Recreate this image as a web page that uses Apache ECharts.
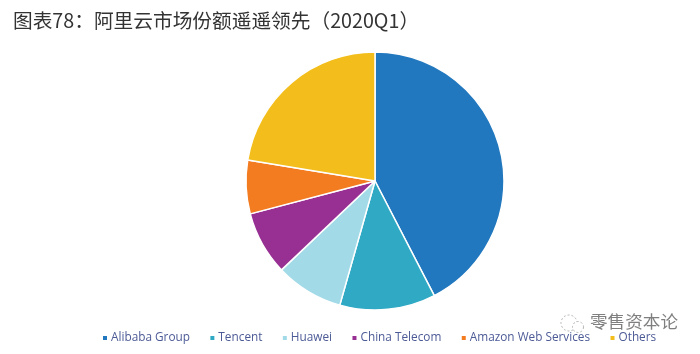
<!DOCTYPE html>
<html>
<head>
<meta charset="utf-8">
<style>
  html, body { margin: 0; padding: 0; background: #fff; }
  #chart { width: 700px; height: 354px; }
</style>
<script src="https://cdn.jsdelivr.net/npm/echarts@6/dist/echarts.min.js"></script>
</head>
<body>
<div id="chart"></div>
<script>
// 数值为从图上估读的份额（%）
const categories = ["Alibaba Group", "Tencent", "Huawei", "China Telecom", "Amazon Web Services", "Others"];
const shares = [42.4, 12, 8.5, 8, 6.7, 22.4];
const colors = ["#2278BE", "#2FA9C4", "#A2DAE8", "#983094", "#F37B20", "#F3BE1B"];
const titleText = "图表78：阿里云市场份额遥遥领先（2020Q1）";
const watermarkText = "零售资本论";

const chart = echarts.init(document.getElementById("chart"));

chart.setOption({
  animation: false,
  backgroundColor: "#fff",
  color: colors,
  title: {
    text: titleText,
    left: 8,
    top: 6,
    textStyle: {
      fontFamily: "Noto Sans CJK SC",
      fontSize: 19.7,
      fontWeight: "normal",
      color: "#333"
    }
  },
  legend: {
    left: 96,
    top: 327,
    icon: "rect",
    itemWidth: 6,
    itemHeight: 6,
    itemGap: 18.4,
    selectedMode: false,
    textStyle: {
      fontFamily: "Open Sans",
      fontSize: 11.8,
      color: "#4C5A96",
      padding: [0, 0, 0, -2]
    }
  },
  series: [
    {
      type: "pie",
      center: [375, 181],
      radius: [0, 129],
      startAngle: 90,
      clockwise: true,
      label: { show: false },
      labelLine: { show: false },
      itemStyle: { borderColor: "#fff", borderWidth: 1.5 },
      data: categories.map((name, i) => ({ name, value: shares[i] }))
    }
  ],
  graphic: [
    // 水印：微信图标 + 公众号名
    {
      type: "circle",
      shape: { cx: 569, cy: 323, r: 8 },
      style: { fill: "none", stroke: "#b4b4b4", lineWidth: 1, lineDash: [2, 2] }
    },
    {
      type: "circle",
      shape: { cx: 578, cy: 327, r: 5.5 },
      style: { fill: "#fff", stroke: "#b4b4b4", lineWidth: 1, lineDash: [2, 2] }
    },
    {
      type: "text",
      left: 590,
      top: 313,
      style: {
        text: watermarkText,
        fontFamily: "Noto Sans CJK SC",
        fontSize: 17.6,
        fill: "#7f7f7f"
      }
    }
  ]
});
</script>
</body>
</html>
